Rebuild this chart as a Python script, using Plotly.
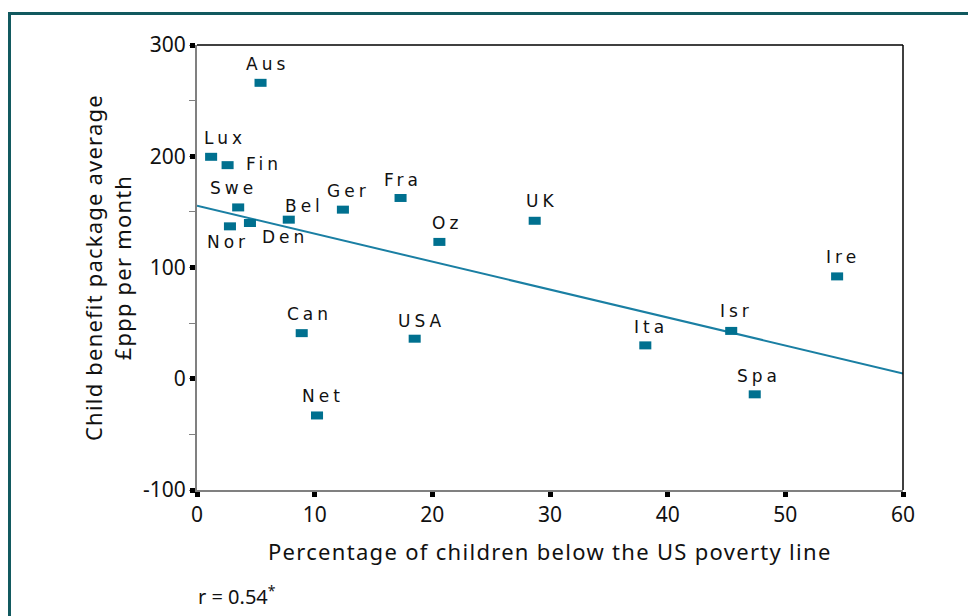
"""Child benefit package vs child poverty scatter."""

import plotly.graph_objects as go

# country codes and values
countries = ["Aus", "Lux", "Fin", "Swe", "Nor", "Den", "Bel", "Ger", "Fra",
             "Oz", "UK", "Ire", "Isr", "Ita", "Spa", "Can", "USA", "Net"]
poverty_pct = [5.4, 1.2, 2.6, 3.5, 2.8, 4.5, 7.8, 12.4, 17.3,
               20.6, 28.7, 54.4, 45.4, 38.1, 47.4, 8.9, 18.5, 10.2]
benefit_ppp = [266, 199.5, 192, 154, 137, 140, 143, 152, 162.5,
               123, 142, 92, 43, 30, -14, 41, 36, -33]

# fitted line end points
trend_x = [0, 60]
trend_y = [155.5, 4.8]

x_ticks = [0, 10, 20, 30, 40, 50, 60]
y_ticks = [-100, 0, 100, 200, 300]

# label offsets (pixels) from each marker: dx, dy
label_offsets = {
    "Aus": (5, 19), "Lux": (12, 19), "Fin": (34, 1), "Swe": (-7, 19),
    "Nor": (-4, -16), "Den": (33, -14), "Bel": (14, 14), "Ger": (4, 19),
    "Fra": (0, 18), "Oz": (6, 19), "UK": (5, 20), "Ire": (4, 19),
    "Isr": (3, 20), "Ita": (4, 18), "Spa": (2, 18), "Can": (6, 19),
    "USA": (5, 18), "Net": (4, 19),
}

MARK = "#00708f"
LINE = "#1a7fa3"
FRAME = "#11595f"
TEXT = "#111111"
SPACING = 4  # letter spacing of point labels, px

fig = go.Figure()

fig.add_trace(
    go.Scatter(
        x=trend_x,
        y=trend_y,
        mode="lines",
        line=dict(color=LINE, width=2),
        hoverinfo="skip",
    )
)
fig.add_trace(
    go.Scatter(
        x=poverty_pct,
        y=benefit_ppp,
        mode="markers",
        marker=dict(symbol="line-ew", size=8.6, line=dict(width=8, color=MARK)),
        text=countries,
    )
)

for name, xv, yv in zip(countries, poverty_pct, benefit_ppp):
    dx, dy = label_offsets[name]
    fig.add_annotation(
        x=xv, y=yv, showarrow=False,
        text=f'<span style="letter-spacing:{SPACING}px">{name}</span>',
        xshift=dx + SPACING / 2, yshift=dy, xanchor="center", yanchor="middle",
        font=dict(family="DejaVu Sans", size=17, color=TEXT),
    )

fig.add_annotation(
    xref="paper", yref="paper", x=-0.1268, y=0.5,
    text='<span style="letter-spacing:1.2px">Child benefit package average'
         "<br>£ppp per month</span>",
    textangle=-90, showarrow=False, xanchor="center", yanchor="middle",
    font=dict(family="Noto Sans", size=22, color=TEXT),
)
fig.add_annotation(
    xref="paper", yref="paper", x=0.5, y=-0.137,
    text='<span style="letter-spacing:1.3px">'
         "Percentage of children below the US poverty line</span>",
    showarrow=False, xanchor="center", yanchor="middle",
    font=dict(family="Noto Sans", size=22, color=TEXT),
)
fig.add_annotation(
    xref="paper", yref="paper", x=-0.0014, y=-0.238,
    text="r = 0.54<sup>*</sup>", showarrow=False,
    xanchor="left", yanchor="middle",
    font=dict(family="Noto Sans", size=20, color=TEXT),
)

# outer frame and black top/right borders
fig.add_shape(type="rect", xref="paper", yref="paper",
              x0=-0.2656, x1=1.2, y0=-0.35, y1=1.0708,
              line=dict(color=FRAME, width=3), layer="below")
fig.add_shape(type="line", xref="paper", yref="paper", x0=0, x1=1, y0=1, y1=1,
              line=dict(color="black", width=1.5))
fig.add_shape(type="line", xref="paper", yref="paper", x0=1, x1=1, y0=0, y1=1,
              line=dict(color="black", width=1.5))

# the page body adds an 8px offset, margins compensate for it
fig.update_layout(
    width=976,
    height=616,
    margin=dict(l=189, r=81, t=37, b=134),
    paper_bgcolor="white",
    plot_bgcolor="white",
    showlegend=False,
    font=dict(family="Noto Sans", color=TEXT),
)
fig.update_xaxes(
    range=[0, 60], tickvals=x_ticks, showgrid=False, zeroline=False,
    showline=True, linecolor="#808080", linewidth=2,
    ticks="outside", ticklen=5, tickwidth=5, tickcolor="black",
    tickfont=dict(family="Noto Sans", size=21),
)
fig.update_yaxes(
    range=[-100, 300], tickvals=y_ticks, ticktext=[str(v) for v in y_ticks],
    showgrid=False, zeroline=False,
    showline=True, linecolor="#808080", linewidth=2,
    ticks="outside", ticklen=5, tickwidth=5, tickcolor="black",
    minor=dict(ticks="outside", dtick=50, ticklen=6, tickwidth=1,
               tickcolor="#808080"),
    tickfont=dict(family="Noto Sans", size=21),
)

fig.write_html("out.html")
